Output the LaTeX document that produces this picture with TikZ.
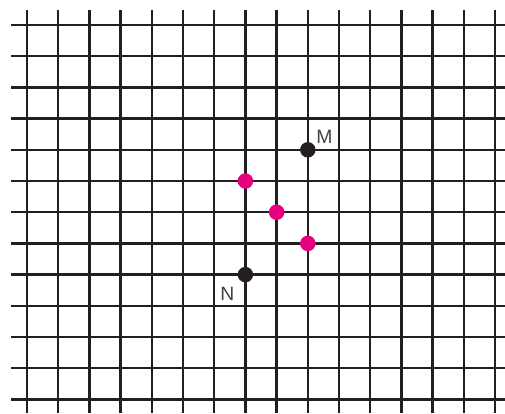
\documentclass[tikz,border=0pt]{standalone}
\usepackage{fontspec}
\setmainfont{Liberation Sans}
\usetikzlibrary{positioning}
\definecolor{ink}{HTML}{231F20}
\definecolor{hotpink}{HTML}{E6007E}
\tikzset{gridline/.style={draw=ink,line width=1.4pt},
  pt/.style={circle,fill=ink,inner sep=0pt,minimum size=0.31cm},
  mid/.style={circle,fill=hotpink,inner sep=0pt,minimum size=0.31cm},
  lbl/.style={text=ink!85,font=\fontsize{11}{12}\selectfont,inner sep=0pt}}
\begin{document}
\begin{tikzpicture}[x=0.624cm,y=-0.624cm]
\useasboundingbox (-0.865,-0.801) rectangle (15.32,12.436);
% grid
\foreach \i in {0,...,15}
  \draw[gridline] (\i,-0.481) -- (\i,12.436);
\foreach \j in {0,...,12}
  \draw[gridline] (-0.513,\j) -- (15.32,\j);
%
\node (M) [pt] at (9,4) {};
\node (N) [pt] at (7,8) {};
\node (p1) [mid] at (7,5) {};
\node (p2) [mid] at (8,6) {};
\node (p3) [mid] at (9,7) {};
%
\node (lM) [lbl,above right=0.01cm and 0.05cm of M] {M};
\node (lN) [lbl,below left=0.13cm and 0.1cm of N] {N};
\end{tikzpicture}
\end{document}
